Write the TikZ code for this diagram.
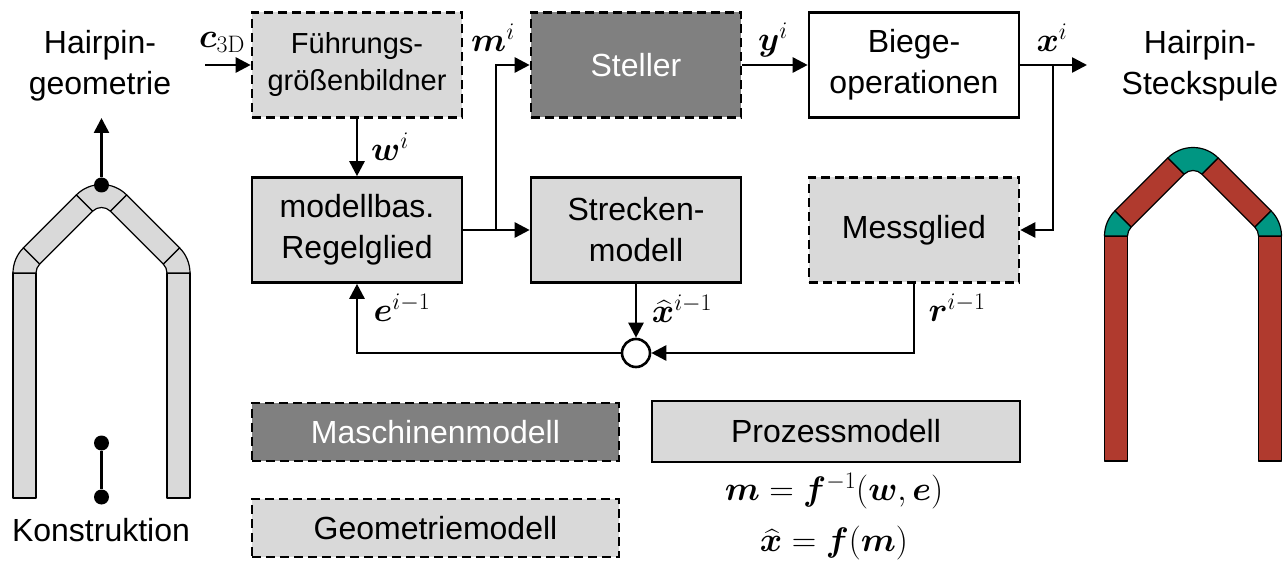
\documentclass[tikz,border=0pt]{standalone}
\usepackage{fix-cm}
\usepackage[no-math]{fontspec}
\setmainfont{Liberation Sans}
\usepackage{amsmath}
\usepackage{bm}
\usetikzlibrary{arrows.meta,calc}

\definecolor{boxgrey}{RGB}{217,217,217}
\definecolor{darkbox}{RGB}{128,128,128}
\definecolor{wirered}{RGB}{176,58,46}
\definecolor{bendteal}{RGB}{0,150,130}

% One hairpin: apex at x=#1, top of the legs at y=#2,
% straight parts filled with #3, bends filled with #4
\newcommand\hairpinpic[4]{%
  \begin{scope}[shift={(#1,#2)}, line width=1.2pt, line join=round]
    \coordinate (hpA) at (-53,0);
    \coordinate (hpB) at (0,-53);
    \coordinate (hpC) at (53,0);
    % legs
    \filldraw[fill=#3] (-88.5,0) rectangle (-65.5,225);
    \filldraw[fill=#3] (65.5,0) rectangle (88.5,225);
    % diagonals
    \filldraw[fill=#3] ($(hpA)+(225:35.5)$) -- ($(hpB)+(225:35.5)$)
      -- ($(hpB)+(225:12.5)$) -- ($(hpA)+(225:12.5)$) -- cycle;
    \filldraw[fill=#3] ($(hpB)+(315:35.5)$) -- ($(hpC)+(315:35.5)$)
      -- ($(hpC)+(315:12.5)$) -- ($(hpB)+(315:12.5)$) -- cycle;
    % bends
    \filldraw[fill=#4] ($(hpA)+(180:35.5)$) arc[start angle=180,end angle=225,radius=35.5]
      -- ($(hpA)+(225:12.5)$) arc[start angle=225,end angle=180,radius=12.5] -- cycle;
    \filldraw[fill=#4] ($(hpB)+(225:35.5)$) arc[start angle=225,end angle=315,radius=35.5]
      -- ($(hpB)+(315:12.5)$) arc[start angle=315,end angle=225,radius=12.5] -- cycle;
    \filldraw[fill=#4] ($(hpC)+(315:35.5)$) arc[start angle=315,end angle=360,radius=35.5]
      -- ($(hpC)+(0:12.5)$) arc[start angle=360,end angle=315,radius=12.5] -- cycle;
  \end{scope}%
}

\tikzset{
  mainfont/.style={font=\fontsize{32}{41}\selectfont},
  blockbox/.style={draw, line width=2.6pt, minimum width=210pt, minimum height=105pt,
    inner sep=0pt, align=center, mainfont},
  dashbox/.style={blockbox, dash pattern=on 9pt off 5pt},
  lightfill/.style={fill=boxgrey},
  darkfill/.style={fill=darkbox, text=white},
  legendbox/.style={draw, line width=2.6pt, minimum width=367pt, minimum height=58pt,
    inner sep=0pt, mainfont},
  sig/.style={-{Triangle[length=15pt,width=15pt]}, line width=2.6pt},
  wire/.style={line width=2.6pt},
  lbl/.style={inner sep=0pt, mainfont},
  mlbl/.style={inner sep=0pt, font=\fontsize{34}{41}\selectfont},
  dotnode/.style={circle, fill=black, minimum size=15pt, inner sep=0pt},
}

\begin{document}
\begin{tikzpicture}[x=1pt, y=-1pt]
\useasboundingbox (0,0) rectangle (1283,561);

% block diagram
\node[dashbox, lightfill, font=\fontsize{29}{37}\selectfont] (fgb) at (357,65) {Führungs-\\größenbildner};
\node[dashbox, darkfill] (stell) at (636,65) {Steller};
\node[blockbox, fill=white] (biege) at (914,65) {Biege-\\operationen};
\node[blockbox, lightfill] (regel) at (357,230) {modellbas.\\Regelglied};
\node[blockbox, lightfill] (strecke) at (636,230) {Strecken-\\modell};
\node[dashbox, lightfill] (mess) at (914,230) {Messglied};
\node[circle, draw, line width=2.6pt, fill=white, minimum size=28pt, inner sep=0pt] (sum) at (636,353) {};

% legend
\node[legendbox, darkfill, dash pattern=on 9pt off 5pt] (masch) at (435.5,432) {Maschinenmodell};
\node[legendbox, lightfill, dash pattern=on 9pt off 5pt] (geom) at (435.5,528) {Geometriemodell};
\node[legendbox, lightfill, minimum width=368pt, minimum height=61pt] (proz) at (836,431.5) {Prozessmodell};
\node[mlbl] (eqa) at (834,491) {$\bm{m}=\bm{f}^{-1}(\bm{w},\bm{e})$};
\node[mlbl] (eqb) at (834,543) {$\widehat{\bm{x}}=\bm{f}(\bm{m})$};

% signal flow
\coordinate (cin) at (205,65);
\coordinate (jm) at (496,230);
\coordinate (xout) at (1087,65);
\coordinate (jx) at (1053,65);
\draw[sig] (cin) -- (fgb);
\draw[sig] (fgb) -- (regel);
\draw[sig] (regel) -- (strecke);
\draw[sig] (jm) |- (stell.west);
\draw[sig] (stell) -- (biege);
\draw[sig] (biege) -- (xout);
\draw[sig] (jx) |- (mess.east);
\draw[sig] (strecke) -- (sum);
\draw[sig] (mess.south) |- (sum.east);
\draw[sig] (sum.west) -| (regel.south);

% signal labels
\node[mlbl] (lc) at (222,42) {$\bm{c}_{3\mathrm{D}}$};
\node[mlbl] (lm) at (493,38) {$\bm{m}^{i}$};
\node[mlbl] (ly) at (773,40) {$\bm{y}^{i}$};
\node[mlbl] (lx) at (1052,38) {$\bm{x}^{i}$};
\node[mlbl] (lw) at (390,147) {$\bm{w}^{i}$};
\node[mlbl] (lxh) at (682,309) {$\widehat{\bm{x}}^{i-1}$};
\node[mlbl] (le) at (402,308) {$\bm{e}^{i-1}$};
\node[mlbl] (lr) at (957,308) {$\bm{r}^{i-1}$};

% design side: hairpin geometry
\node[lbl, align=center] (tgeo) at (100,66) {Hairpin-\\geometrie};
\hairpinpic{101.5}{273}{boxgrey}{boxgrey}
\node[dotnode] (gdot) at (101.5,185) {};
\coordinate (gtip) at (101.5,118);
\draw[sig] (gdot) -- (gtip);
\node[dotnode] (ka) at (101.5,443) {};
\node[dotnode] (kb) at (101.5,497) {};
\draw[wire] (ka) -- (kb);
\node[lbl] (tkon) at (101,530) {Konstruktion};

% product side: finished hairpin coil
\node[lbl, align=center] (tsteck) at (1200,66) {Hairpin-\\Steckspule};
\hairpinpic{1193}{236}{wirered}{bendteal}
\end{tikzpicture}
\end{document}
